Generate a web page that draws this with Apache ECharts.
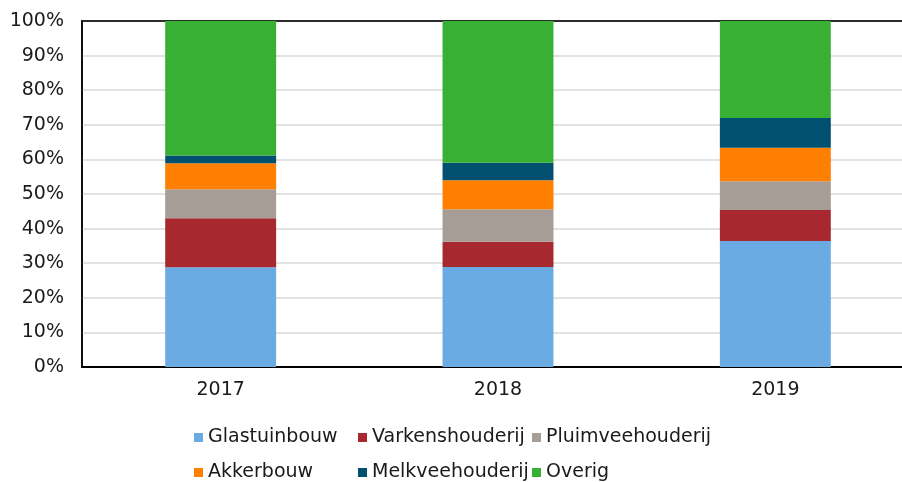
<!DOCTYPE html>
<html>
<head>
<meta charset="utf-8">
<script src="https://cdn.jsdelivr.net/npm/echarts@6/dist/echarts.min.js"></script>
<style>
  html, body { margin: 0; padding: 0; background: #fff; }
  #chart { width: 902px; height: 482px; }
</style>
</head>
<body>
<div id="chart"></div>
<script>
// categories and series values (% share per year)
const years = ["2017", "2018", "2019"];
const glastuinbouw = [28.8, 28.9, 36.4];
const varkenshouderij = [14.2, 7.3, 9.0];
const pluimveehouderij = [8.4, 9.4, 8.3];
const akkerbouw = [7.5, 8.4, 9.7];
const melkveehouderij = [2.2, 5.0, 8.6];
const overig = [38.9, 41.0, 28.0];

const colors = {
  Glastuinbouw: "#69abe2",
  Varkenshouderij: "#a8282f",
  Pluimveehouderij: "#a59d96",
  Akkerbouw: "#ff7f00",
  Melkveehouderij: "#02506f",
  Overig: "#37b034"
};

const font = "'DejaVu Sans', Verdana, sans-serif";
const textColor = "#1a1a1a";

function bar(name, data) {
  return {
    name: name,
    type: "bar",
    stack: "total",
    barWidth: "40%",
    itemStyle: { color: colors[name] },
    emphasis: { disabled: true },
    data: data
  };
}

// one legend per item, Excel-style 3x2 layout
function legendItem(name, left, top) {
  return {
    left: left,
    top: top,
    padding: 0,
    itemWidth: 9,
    itemHeight: 9,
    itemGap: 0,
    selectedMode: false,
    icon: "rect",
    textStyle: { fontFamily: font, fontSize: 19, color: textColor },
    data: [name]
  };
}

const chart = echarts.init(document.getElementById("chart"));
chart.setOption({
  animation: false,
  color: Object.values(colors),
  grid: {
    left: 82,
    top: 21,
    width: 832,
    height: 346,
    outerBoundsMode: "none",
    show: true,
    borderColor: "#000",
    borderWidth: 1.5
  },
  legend: [
    legendItem("Glastuinbouw", 194, 428),
    legendItem("Varkenshouderij", 358, 428),
    legendItem("Pluimveehouderij", 532, 428),
    legendItem("Akkerbouw", 194, 463),
    legendItem("Melkveehouderij", 358, 463),
    legendItem("Overig", 532, 463)
  ],
  xAxis: [
    {
      type: "category",
      data: years,
      axisTick: { show: false },
      axisLine: { lineStyle: { color: "#000", width: 2 } },
      axisLabel: { fontFamily: font, fontSize: 19, color: textColor, margin: 14 }
    },
    {
      // top frame line of the plot area
      type: "category",
      position: "top",
      data: years,
      axisTick: { show: false },
      axisLabel: { show: false },
      axisLine: { lineStyle: { color: "#000", width: 1.5 } }
    }
  ],
  yAxis: {
    type: "value",
    min: 0,
    max: 100,
    interval: 10,
    axisLine: { show: true, lineStyle: { color: "#000", width: 1.5 } },
    axisTick: { show: false },
    axisLabel: { fontFamily: font, fontSize: 19, color: textColor, margin: 18, formatter: "{value}%" },
    splitLine: { lineStyle: { color: "#d9d9d9", width: 1.5 } }
  },
  series: [
    bar("Glastuinbouw", glastuinbouw),
    bar("Varkenshouderij", varkenshouderij),
    bar("Pluimveehouderij", pluimveehouderij),
    bar("Akkerbouw", akkerbouw),
    bar("Melkveehouderij", melkveehouderij),
    bar("Overig", overig)
  ]
});
</script>
</body>
</html>
